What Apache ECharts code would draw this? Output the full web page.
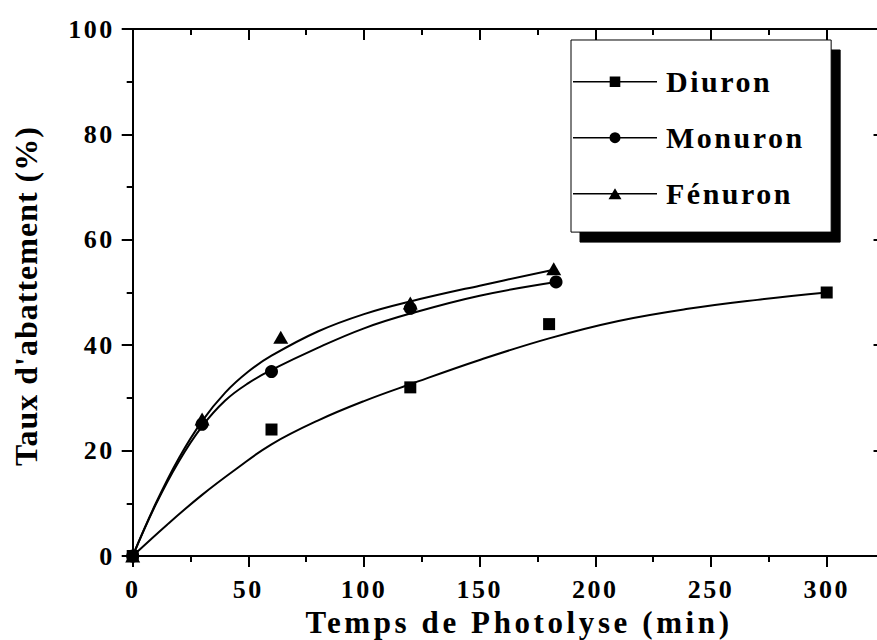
<!DOCTYPE html>
<html>
<head>
<meta charset="utf-8">
<script src="https://cdn.jsdelivr.net/npm/echarts@6/dist/echarts.min.js"></script>
<style>
html, body { margin: 0; padding: 0; background: #fff; }
#chart { width: 877px; height: 640px; }
#chart text[style*="26px"] { letter-spacing: 2.5px; }
#chart text[style*="30px"] { letter-spacing: 2.5px; }
#chart text[style*="31px"] { letter-spacing: 3.6px; }
#chart text[style*="32px"] { letter-spacing: 1px; }
</style>
</head>
<body>
<div id="chart"></div>
<script>
// ---- measured points ----
const diuronTime  = [0, 60, 120, 180, 300];
const diuronRate  = [0, 24, 32, 44, 50];
const monuronTime = [0, 30, 60, 120, 183];
const monuronRate = [0, 25, 35, 47, 52];
const fenuronTime = [0, 30, 64, 120, 182];
const fenuronRate = [0, 26, 41.5, 48, 54.5];

// ---- fitted curves ----
const diuronFitTime  = [0, 15, 30, 45, 60, 80, 100, 120, 150, 180, 210, 240, 270, 300];
const diuronFitRate  = [0, 6.0, 11.6, 16.6, 21.2, 25.7, 29.4, 32.6, 37.2, 41.3, 44.6, 46.9, 48.6, 50.0];
const monuronFitTime = [0, 10, 20, 30, 40, 50, 60, 80, 100, 120, 150, 183];
const monuronFitRate = [0, 9.8, 18.0, 24.6, 29.5, 32.8, 35.3, 39.5, 43.2, 46.0, 49.4, 52.0];
const fenuronFitTime = [0, 10, 20, 30, 40, 50, 60, 80, 100, 120, 150, 182];
const fenuronFitRate = [0, 10.0, 18.6, 25.6, 31.0, 35.0, 38.0, 42.6, 45.9, 48.3, 51.3, 54.3];

// ---- labels ----
const seriesNames = ['Diuron', 'Monuron', 'Fénuron'];
const xTitle = 'Temps de Photolyse (min)';
const yTitle = "Taux d'abattement (%)";

const pairs = (xs, ys) => xs.map((x, i) => [x, ys[i]]);

const FONT = "'Liberation Serif', 'Times New Roman', serif";
const BLACK = '#000';

// x scale: 0..350 (0 at 132.7px, 300 at 826.7px); visible frame edge sits at 325
const X_MAX = 350;
const GRID_LEFT = 132.7;
const PX_PER_UNIT = 694 / 300;
const GRID_RIGHT = 877 - (GRID_LEFT + X_MAX * PX_PER_UNIT);
const RIGHT_FRAME_OFFSET = -(X_MAX - 325) * PX_PER_UNIT;

const tickStyle = { color: BLACK, width: 2 };

function xAxisCfg(pos, inside, showLabel, name) {
  return {
    type: 'value', position: pos, min: 0, max: X_MAX, interval: 50,
    name: name || '', nameLocation: 'middle', nameGap: 42,
    nameTextStyle: { fontFamily: FONT, fontWeight: 'bold', fontSize: 31, color: BLACK, lineHeight: 31,
                     padding: [0, 37, 0, 0] },
    axisLine: { show: true, onZero: false, lineStyle: { color: BLACK, width: 2 } },
    axisTick: { show: true, inside: inside, length: 11, lineStyle: tickStyle },
    minorTick: { show: true, splitNumber: 2, length: 6, lineStyle: tickStyle },
    axisLabel: { show: showLabel, showMaxLabel: false, margin: 20, fontFamily: FONT, fontWeight: 'bold', fontSize: 26, color: BLACK },
    splitLine: { show: false }, minorSplitLine: { show: false }
  };
}
function yAxisCfg(pos, inside, showLabel, name, offset) {
  return {
    type: 'value', position: pos, min: 0, max: 100, interval: 20, offset: offset || 0,
    name: name || '', nameLocation: 'middle', nameGap: 91,
    nameTextStyle: { fontFamily: FONT, fontWeight: 'bold', fontSize: 32, color: BLACK, lineHeight: 32, padding: [0, 7, 0, 0] },
    axisLine: { show: true, onZero: false, lineStyle: { color: BLACK, width: 2 } },
    axisTick: { show: true, inside: inside, length: 11, lineStyle: tickStyle },
    minorTick: { show: true, splitNumber: 2, length: 6, lineStyle: tickStyle },
    axisLabel: { show: showLabel, margin: 18, fontFamily: FONT, fontWeight: 'bold', fontSize: 26, color: BLACK },
    splitLine: { show: false }, minorSplitLine: { show: false }
  };
}

const LINE = 'M0,4.75L84,4.75L84,6.25L0,6.25Z';
const iconSquare = 'path://' + LINE + 'M36.7,0.2L47.3,0.2L47.3,10.8L36.7,10.8Z';
const iconCircle = 'path://' + LINE + 'M36.5,5.5A5.5,5.5,0,1,1,47.5,5.5A5.5,5.5,0,1,1,36.5,5.5Z';
const iconTriangle = 'path://' + LINE + 'M35.5,11L42,0L48.5,11Z';

function fitSeries(name, xs, ys) {
  return {
    name: name, type: 'line', xAxisIndex: 0, yAxisIndex: 0,
    data: pairs(xs, ys), smooth: 0.4, symbol: 'none', clip: false,
    lineStyle: { color: BLACK, width: 2 }, itemStyle: { color: BLACK },
    silent: true, z: 2
  };
}
function pointSeries(name, xs, ys, symbol, size) {
  return {
    name: name, type: 'scatter', xAxisIndex: 0, yAxisIndex: 0,
    data: pairs(xs, ys), symbol: symbol, symbolSize: size, clip: false,
    itemStyle: { color: BLACK, opacity: 1 }, z: 3
  };
}

const chart = echarts.init(document.getElementById('chart'), null, { renderer: 'svg' });
chart.setOption({
  animation: false,
  backgroundColor: '#fff',
  grid: { left: GRID_LEFT, top: 29, bottom: 84, right: GRID_RIGHT, containLabel: false, outerBoundsMode: 'none' },
  xAxis: [
    xAxisCfg('bottom', false, true, xTitle),
    xAxisCfg('top', true, false, '')
  ],
  yAxis: [
    yAxisCfg('left', false, true, yTitle, 0),
    yAxisCfg('right', true, false, '', RIGHT_FRAME_OFFSET)
  ],
  legend: {
    orient: 'vertical', left: 571, top: 40,
    padding: [26.7, 44, 23.4, 2],
    itemWidth: 84, itemHeight: 11, itemGap: 26, align: 'left',
    backgroundColor: '#fff', borderColor: BLACK, borderWidth: 1, borderRadius: 0,
    shadowColor: BLACK, shadowBlur: 0, shadowOffsetX: 9, shadowOffsetY: 10,
    selectedMode: false,
    textStyle: { fontFamily: FONT, fontWeight: 'bold', fontSize: 30, color: BLACK, lineHeight: 30, padding: [0, 0, 0, 4] },
    data: [
      { name: seriesNames[0], icon: iconSquare },
      { name: seriesNames[1], icon: iconCircle },
      { name: seriesNames[2], icon: iconTriangle }
    ]
  },
  series: [
    fitSeries('Diuron fit', diuronFitTime, diuronFitRate),
    fitSeries('Monuron fit', monuronFitTime, monuronFitRate),
    fitSeries('Fénuron fit', fenuronFitTime, fenuronFitRate),
    pointSeries(seriesNames[2], fenuronTime, fenuronRate, 'triangle', [15, 13]),
    pointSeries(seriesNames[1], monuronTime, monuronRate, 'circle', 13),
    pointSeries(seriesNames[0], diuronTime, diuronRate, 'rect', 12)
  ]
});
</script>
</body>
</html>
